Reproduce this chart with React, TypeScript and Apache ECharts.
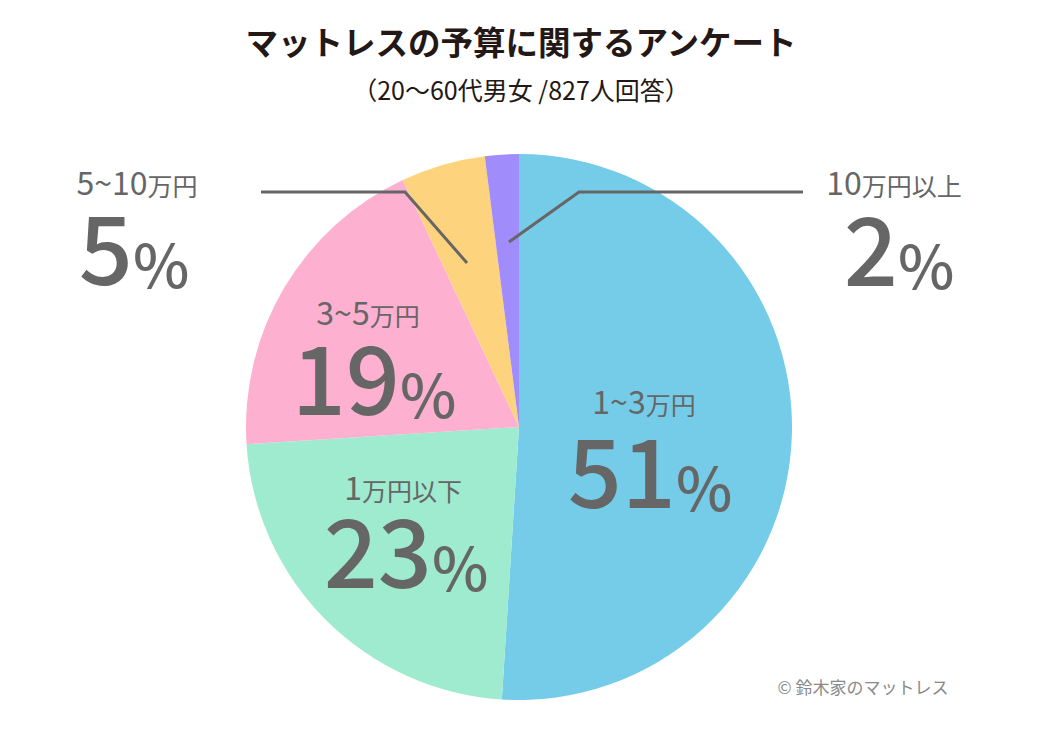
import React, { useEffect, useRef } from "react";
import * as echarts from "echarts";

const titleText = "マットレスの予算に関するアンケート";
const subtitleText = "（20～60代男女 /827人回答）";
const sourceText = "© 鈴木家のマットレス";
const categories = ["1~3万円", "1万円以下", "3~5万円", "5~10万円", "10万円以上"];
const values = [51, 23, 19, 5, 2];
const colors = ["#74cce9", "#9eebd0", "#fdb0d0", "#fdd47d", "#a18cfc"];

const FONT = '"Noto Sans CJK JP", "Noto Sans", sans-serif';
const LABEL_COLOR = "#666666";

// label placement (pixel layout, not data)
const labelLayout = [
  { cx: 644, cy: 401, px: 650, py: 478 },
  { cx: 403, cy: 487, px: 406, py: 558 },
  { cx: 368, cy: 312, px: 374, py: 385 },
  { cx: 137, cy: 182, px: 134, py: 255 },
  { cx: 894, cy: 182, px: 899, py: 256 },
];
const leaderLines: Record<number, number[][]> = {
  3: [[261, 192], [405, 192], [467, 263]],
  4: [[803, 192], [579, 192], [509, 242]],
};

function richCategory(s: string) {
  const parts = s.match(/[0-9~]+|[^0-9~]+/g) || [];
  return parts.map((p) => `{${/[0-9~]/.test(p[0]) ? "num" : "unit"}|${p}}`).join("");
}

export default function App() {
  const ref = useRef<HTMLDivElement>(null);
  useEffect(() => {
    if (!ref.current) return;
    const chart = echarts.init(ref.current, undefined, { renderer: "svg" });

    const graphics: any[] = [];
    categories.forEach((c, i) => {
      const L = labelLayout[i];
      graphics.push({
        type: "text",
        x: L.cx,
        y: L.cy,
        z: 100,
        style: {
          text: richCategory(c),
          align: "center",
          verticalAlign: "middle",
          rich: {
            num: { fontFamily: FONT, fontSize: 32, fill: LABEL_COLOR, fontWeight: "normal", verticalAlign: "bottom", lineHeight: 30 },
            unit: { fontFamily: FONT, fontSize: 25, fill: LABEL_COLOR, fontWeight: "normal", verticalAlign: "bottom", lineHeight: 27 },
          },
        },
      });
      graphics.push({
        type: "text",
        x: L.px,
        y: L.py,
        z: 100,
        style: {
          text: `{big|${values[i]}}{pct|%}`,
          align: "center",
          verticalAlign: "middle",
          rich: {
            big: { fontFamily: FONT, fontSize: 95, fill: LABEL_COLOR, fontWeight: 500, verticalAlign: "bottom", lineHeight: 72 },
            pct: { fontFamily: FONT, fontSize: 60, fill: LABEL_COLOR, fontWeight: 500, verticalAlign: "bottom", lineHeight: 48 },
          },
        },
      });
      if (leaderLines[i]) {
        graphics.push({
          type: "polyline",
          z: 90,
          shape: { points: leaderLines[i] },
          style: { stroke: "#666666", lineWidth: 3, fill: "none" },
        });
      }
    });
    graphics.push({
      type: "text",
      x: 863,
      y: 686,
      z: 100,
      style: {
        text: sourceText,
        align: "center",
        verticalAlign: "middle",
        fontFamily: FONT,
        fontSize: 17,
        fill: "#8a8a8a",
      },
    });

    chart.setOption({
      animation: false,
      backgroundColor: "#ffffff",
      title: [
        {
          text: titleText,
          left: "center",
          top: 19,
          textStyle: { fontFamily: FONT, fontSize: 32.5, fontWeight: "bold", color: "#231815" },
        },
        {
          text: subtitleText,
          left: "center",
          top: 71,
          textStyle: { fontFamily: FONT, fontSize: 25, fontWeight: "normal", color: "#231815" },
        },
      ],
      series: [
        {
          type: "pie",
          center: [519, 427],
          radius: [0, 273],
          startAngle: 90,
          clockwise: true,
          silent: true,
          z: 2,
          label: { show: false },
          labelLine: { show: false },
          itemStyle: { borderWidth: 0 },
          data: categories.map((c, i) => ({ name: c, value: values[i], itemStyle: { color: colors[i] } })),
        },
      ],
      graphic: graphics,
    });
    return () => chart.dispose();
  }, []);
  return <div ref={ref} style={{ position: "fixed", left: 0, top: 0, width: 1042, height: 732 }} />;
}
